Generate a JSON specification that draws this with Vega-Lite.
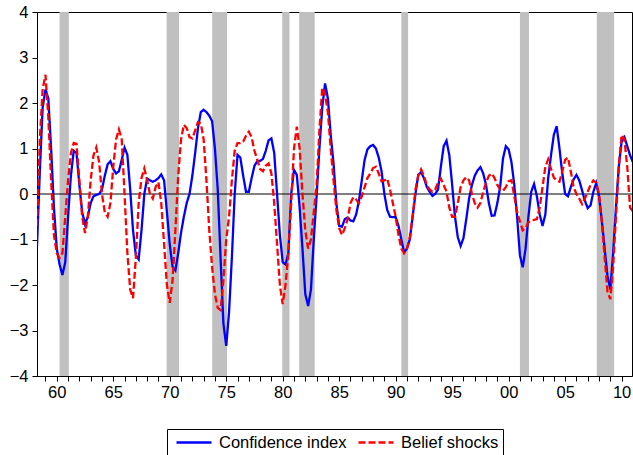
{
  "$schema": "https://vega.github.io/schema/vega-lite/v6.json",
  "autosize": {"type": "none"},
  "padding": {"left": 37, "top": 12, "right": 1, "bottom": 79},
  "width": 595,
  "height": 364,
  "background": "white",
  "config": {
    "font": "Liberation Sans",
    "view": {"stroke": "black", "strokeWidth": 1},
    "axis": {"domainColor": "black", "tickColor": "black", "labelColor": "black", "grid": false, "labelFontSize": 16.5, "labelFont": "Liberation Sans", "tickSize": 5, "domainWidth": 1, "tickWidth": 1}
  },
  "datasets": {
    "rec": [
      {"s": 1960.25, "e": 1961.07},
      {"s": 1969.72, "e": 1970.83},
      {"s": 1973.76, "e": 1975.08},
      {"s": 1979.96, "e": 1980.6},
      {"s": 1981.46, "e": 1982.83},
      {"s": 1990.5, "e": 1991.1},
      {"s": 2001.0, "e": 2001.8},
      {"s": 2007.8, "e": 2009.34}
    ],
    "main": [
      {"t":1958.25,"Confidence index":-1.15,"Belief shocks":-0.7},
      {"t":1958.5,"Confidence index":0.5,"Belief shocks":1.2},
      {"t":1958.75,"Confidence index":1.9,"Belief shocks":2.3},
      {"t":1959.0,"Confidence index":2.3,"Belief shocks":2.62},
      {"t":1959.25,"Confidence index":2.1,"Belief shocks":1.7},
      {"t":1959.5,"Confidence index":1.0,"Belief shocks":0.3},
      {"t":1959.75,"Confidence index":-0.3,"Belief shocks":-0.9},
      {"t":1960.0,"Confidence index":-1.2,"Belief shocks":-1.3},
      {"t":1960.25,"Confidence index":-1.55,"Belief shocks":-1.41},
      {"t":1960.5,"Confidence index":-1.78,"Belief shocks":-1.3},
      {"t":1960.75,"Confidence index":-1.5,"Belief shocks":-0.5},
      {"t":1961.0,"Confidence index":-0.5,"Belief shocks":0.3},
      {"t":1961.25,"Confidence index":0.4,"Belief shocks":0.9},
      {"t":1961.5,"Confidence index":0.95,"Belief shocks":1.12},
      {"t":1961.75,"Confidence index":0.9,"Belief shocks":1.1},
      {"t":1962.0,"Confidence index":0.2,"Belief shocks":0.3},
      {"t":1962.25,"Confidence index":-0.4,"Belief shocks":-0.5},
      {"t":1962.5,"Confidence index":-0.66,"Belief shocks":-0.86},
      {"t":1962.75,"Confidence index":-0.5,"Belief shocks":-0.5},
      {"t":1963.0,"Confidence index":-0.2,"Belief shocks":0.3},
      {"t":1963.25,"Confidence index":-0.05,"Belief shocks":0.85},
      {"t":1963.5,"Confidence index":-0.02,"Belief shocks":1.02},
      {"t":1963.75,"Confidence index":0.0,"Belief shocks":0.7},
      {"t":1964.0,"Confidence index":0.1,"Belief shocks":0.0},
      {"t":1964.25,"Confidence index":0.4,"Belief shocks":-0.4},
      {"t":1964.5,"Confidence index":0.65,"Belief shocks":-0.5},
      {"t":1964.75,"Confidence index":0.72,"Belief shocks":-0.2},
      {"t":1965.0,"Confidence index":0.55,"Belief shocks":0.6},
      {"t":1965.25,"Confidence index":0.45,"Belief shocks":1.2},
      {"t":1965.5,"Confidence index":0.5,"Belief shocks":1.42},
      {"t":1965.75,"Confidence index":0.75,"Belief shocks":1.2},
      {"t":1966.0,"Confidence index":1.02,"Belief shocks":0.0},
      {"t":1966.25,"Confidence index":0.86,"Belief shocks":-1.3},
      {"t":1966.5,"Confidence index":0.1,"Belief shocks":-2.1},
      {"t":1966.75,"Confidence index":-0.8,"Belief shocks":-2.29},
      {"t":1967.0,"Confidence index":-1.35,"Belief shocks":-1.4},
      {"t":1967.25,"Confidence index":-1.44,"Belief shocks":-0.2},
      {"t":1967.5,"Confidence index":-0.8,"Belief shocks":0.35},
      {"t":1967.75,"Confidence index":0.0,"Belief shocks":0.56},
      {"t":1968.0,"Confidence index":0.34,"Belief shocks":0.3},
      {"t":1968.25,"Confidence index":0.3,"Belief shocks":0.0},
      {"t":1968.5,"Confidence index":0.27,"Belief shocks":-0.1},
      {"t":1968.75,"Confidence index":0.3,"Belief shocks":0.15},
      {"t":1969.0,"Confidence index":0.35,"Belief shocks":0.26},
      {"t":1969.25,"Confidence index":0.43,"Belief shocks":-0.2},
      {"t":1969.5,"Confidence index":0.3,"Belief shocks":-1.1},
      {"t":1969.75,"Confidence index":-0.4,"Belief shocks":-2.0},
      {"t":1970.0,"Confidence index":-1.1,"Belief shocks":-2.39},
      {"t":1970.25,"Confidence index":-1.6,"Belief shocks":-1.9},
      {"t":1970.5,"Confidence index":-1.68,"Belief shocks":-0.8},
      {"t":1970.75,"Confidence index":-1.3,"Belief shocks":0.4},
      {"t":1971.0,"Confidence index":-0.85,"Belief shocks":1.2},
      {"t":1971.25,"Confidence index":-0.5,"Belief shocks":1.52},
      {"t":1971.5,"Confidence index":-0.2,"Belief shocks":1.45},
      {"t":1971.75,"Confidence index":0.0,"Belief shocks":1.25},
      {"t":1972.0,"Confidence index":0.4,"Belief shocks":1.22},
      {"t":1972.25,"Confidence index":0.9,"Belief shocks":1.4},
      {"t":1972.5,"Confidence index":1.45,"Belief shocks":1.58},
      {"t":1972.75,"Confidence index":1.8,"Belief shocks":1.55},
      {"t":1973.0,"Confidence index":1.85,"Belief shocks":1.2},
      {"t":1973.25,"Confidence index":1.8,"Belief shocks":0.3},
      {"t":1973.5,"Confidence index":1.72,"Belief shocks":-0.8},
      {"t":1973.75,"Confidence index":1.6,"Belief shocks":-1.6},
      {"t":1974.0,"Confidence index":1.0,"Belief shocks":-2.2},
      {"t":1974.25,"Confidence index":0.1,"Belief shocks":-2.5},
      {"t":1974.5,"Confidence index":-1.4,"Belief shocks":-2.55},
      {"t":1974.75,"Confidence index":-2.84,"Belief shocks":-1.9},
      {"t":1975.0,"Confidence index":-3.34,"Belief shocks":-1.0},
      {"t":1975.25,"Confidence index":-2.6,"Belief shocks":-0.5},
      {"t":1975.5,"Confidence index":-1.4,"Belief shocks":0.3},
      {"t":1975.75,"Confidence index":0.0,"Belief shocks":0.95},
      {"t":1976.0,"Confidence index":0.86,"Belief shocks":1.12},
      {"t":1976.25,"Confidence index":0.8,"Belief shocks":1.12},
      {"t":1976.5,"Confidence index":0.4,"Belief shocks":1.15},
      {"t":1976.75,"Confidence index":0.05,"Belief shocks":1.28},
      {"t":1977.0,"Confidence index":0.05,"Belief shocks":1.37},
      {"t":1977.25,"Confidence index":0.35,"Belief shocks":1.25},
      {"t":1977.5,"Confidence index":0.62,"Belief shocks":0.95},
      {"t":1977.75,"Confidence index":0.72,"Belief shocks":0.75},
      {"t":1978.0,"Confidence index":0.73,"Belief shocks":0.55},
      {"t":1978.25,"Confidence index":0.77,"Belief shocks":0.5},
      {"t":1978.5,"Confidence index":0.95,"Belief shocks":0.62},
      {"t":1978.75,"Confidence index":1.18,"Belief shocks":0.67},
      {"t":1979.0,"Confidence index":1.22,"Belief shocks":0.45},
      {"t":1979.25,"Confidence index":0.9,"Belief shocks":-0.2},
      {"t":1979.5,"Confidence index":0.0,"Belief shocks":-1.1},
      {"t":1979.75,"Confidence index":-0.9,"Belief shocks":-2.0},
      {"t":1980.0,"Confidence index":-1.5,"Belief shocks":-2.42},
      {"t":1980.25,"Confidence index":-1.55,"Belief shocks":-2.0},
      {"t":1980.5,"Confidence index":-1.3,"Belief shocks":-1.3},
      {"t":1980.75,"Confidence index":0.0,"Belief shocks":-0.2},
      {"t":1981.0,"Confidence index":0.53,"Belief shocks":1.0},
      {"t":1981.25,"Confidence index":0.42,"Belief shocks":1.48},
      {"t":1981.5,"Confidence index":-0.3,"Belief shocks":1.0},
      {"t":1981.75,"Confidence index":-1.2,"Belief shocks":0.0},
      {"t":1982.0,"Confidence index":-2.2,"Belief shocks":-0.8},
      {"t":1982.25,"Confidence index":-2.46,"Belief shocks":-1.2},
      {"t":1982.5,"Confidence index":-2.1,"Belief shocks":-1.0},
      {"t":1982.75,"Confidence index":-1.0,"Belief shocks":-0.4},
      {"t":1983.0,"Confidence index":-0.05,"Belief shocks":0.2},
      {"t":1983.25,"Confidence index":1.0,"Belief shocks":1.4},
      {"t":1983.5,"Confidence index":1.9,"Belief shocks":2.34},
      {"t":1983.75,"Confidence index":2.43,"Belief shocks":2.2},
      {"t":1984.0,"Confidence index":2.1,"Belief shocks":1.8},
      {"t":1984.25,"Confidence index":1.3,"Belief shocks":1.0},
      {"t":1984.5,"Confidence index":0.67,"Belief shocks":0.3},
      {"t":1984.75,"Confidence index":-0.2,"Belief shocks":-0.35},
      {"t":1985.0,"Confidence index":-0.7,"Belief shocks":-0.75},
      {"t":1985.25,"Confidence index":-0.72,"Belief shocks":-0.9},
      {"t":1985.5,"Confidence index":-0.55,"Belief shocks":-0.75},
      {"t":1985.75,"Confidence index":-0.52,"Belief shocks":-0.55},
      {"t":1986.0,"Confidence index":-0.58,"Belief shocks":-0.2},
      {"t":1986.25,"Confidence index":-0.6,"Belief shocks":-0.07},
      {"t":1986.5,"Confidence index":-0.45,"Belief shocks":-0.12},
      {"t":1986.75,"Confidence index":-0.15,"Belief shocks":-0.2},
      {"t":1987.0,"Confidence index":0.3,"Belief shocks":-0.05},
      {"t":1987.25,"Confidence index":0.75,"Belief shocks":0.15},
      {"t":1987.5,"Confidence index":0.98,"Belief shocks":0.35},
      {"t":1987.75,"Confidence index":1.05,"Belief shocks":0.45},
      {"t":1988.0,"Confidence index":1.08,"Belief shocks":0.57},
      {"t":1988.25,"Confidence index":1.0,"Belief shocks":0.6},
      {"t":1988.5,"Confidence index":0.8,"Belief shocks":0.45},
      {"t":1988.75,"Confidence index":0.5,"Belief shocks":0.28},
      {"t":1989.0,"Confidence index":0.0,"Belief shocks":0.3},
      {"t":1989.25,"Confidence index":-0.35,"Belief shocks":0.34},
      {"t":1989.5,"Confidence index":-0.5,"Belief shocks":0.1},
      {"t":1989.75,"Confidence index":-0.51,"Belief shocks":-0.2},
      {"t":1990.0,"Confidence index":-0.51,"Belief shocks":-0.5},
      {"t":1990.25,"Confidence index":-0.7,"Belief shocks":-0.9},
      {"t":1990.5,"Confidence index":-1.0,"Belief shocks":-1.2},
      {"t":1990.75,"Confidence index":-1.28,"Belief shocks":-1.3},
      {"t":1991.0,"Confidence index":-1.2,"Belief shocks":-1.2},
      {"t":1991.25,"Confidence index":-1.0,"Belief shocks":-0.95},
      {"t":1991.5,"Confidence index":-0.5,"Belief shocks":-0.5},
      {"t":1991.75,"Confidence index":0.0,"Belief shocks":0.1},
      {"t":1992.0,"Confidence index":0.42,"Belief shocks":0.4},
      {"t":1992.25,"Confidence index":0.48,"Belief shocks":0.54},
      {"t":1992.5,"Confidence index":0.35,"Belief shocks":0.4},
      {"t":1992.75,"Confidence index":0.16,"Belief shocks":0.2},
      {"t":1993.0,"Confidence index":0.05,"Belief shocks":0.1},
      {"t":1993.25,"Confidence index":-0.04,"Belief shocks":0.05},
      {"t":1993.5,"Confidence index":0.0,"Belief shocks":0.1},
      {"t":1993.75,"Confidence index":0.1,"Belief shocks":0.25},
      {"t":1994.0,"Confidence index":0.6,"Belief shocks":0.34},
      {"t":1994.25,"Confidence index":1.05,"Belief shocks":0.2},
      {"t":1994.5,"Confidence index":1.17,"Belief shocks":0.05},
      {"t":1994.75,"Confidence index":0.85,"Belief shocks":-0.3},
      {"t":1995.0,"Confidence index":0.2,"Belief shocks":-0.5},
      {"t":1995.25,"Confidence index":-0.5,"Belief shocks":-0.5},
      {"t":1995.5,"Confidence index":-0.95,"Belief shocks":-0.2},
      {"t":1995.75,"Confidence index":-1.14,"Belief shocks":0.15},
      {"t":1996.0,"Confidence index":-0.97,"Belief shocks":0.3},
      {"t":1996.25,"Confidence index":-0.55,"Belief shocks":0.37},
      {"t":1996.5,"Confidence index":-0.1,"Belief shocks":0.3},
      {"t":1996.75,"Confidence index":0.2,"Belief shocks":0.0},
      {"t":1997.0,"Confidence index":0.4,"Belief shocks":-0.2},
      {"t":1997.25,"Confidence index":0.52,"Belief shocks":-0.3},
      {"t":1997.5,"Confidence index":0.59,"Belief shocks":-0.2},
      {"t":1997.75,"Confidence index":0.45,"Belief shocks":0.05},
      {"t":1998.0,"Confidence index":0.2,"Belief shocks":0.25},
      {"t":1998.25,"Confidence index":-0.2,"Belief shocks":0.4},
      {"t":1998.5,"Confidence index":-0.48,"Belief shocks":0.45},
      {"t":1998.75,"Confidence index":-0.47,"Belief shocks":0.35},
      {"t":1999.0,"Confidence index":-0.2,"Belief shocks":0.2},
      {"t":1999.25,"Confidence index":0.16,"Belief shocks":0.1},
      {"t":1999.5,"Confidence index":0.78,"Belief shocks":0.07},
      {"t":1999.75,"Confidence index":1.05,"Belief shocks":0.15},
      {"t":2000.0,"Confidence index":0.98,"Belief shocks":0.28},
      {"t":2000.25,"Confidence index":0.7,"Belief shocks":0.3},
      {"t":2000.5,"Confidence index":0.2,"Belief shocks":-0.05},
      {"t":2000.75,"Confidence index":-0.5,"Belief shocks":-0.4},
      {"t":2001.0,"Confidence index":-1.35,"Belief shocks":-0.6},
      {"t":2001.25,"Confidence index":-1.61,"Belief shocks":-0.8},
      {"t":2001.5,"Confidence index":-1.2,"Belief shocks":-0.75},
      {"t":2001.75,"Confidence index":-0.5,"Belief shocks":-0.62},
      {"t":2002.0,"Confidence index":0.05,"Belief shocks":-0.58},
      {"t":2002.25,"Confidence index":0.22,"Belief shocks":-0.57},
      {"t":2002.5,"Confidence index":-0.05,"Belief shocks":-0.55},
      {"t":2002.75,"Confidence index":-0.45,"Belief shocks":-0.3},
      {"t":2003.0,"Confidence index":-0.7,"Belief shocks":0.15},
      {"t":2003.25,"Confidence index":-0.45,"Belief shocks":0.6},
      {"t":2003.5,"Confidence index":0.35,"Belief shocks":0.76},
      {"t":2003.75,"Confidence index":0.85,"Belief shocks":0.55},
      {"t":2004.0,"Confidence index":1.3,"Belief shocks":0.36},
      {"t":2004.25,"Confidence index":1.49,"Belief shocks":0.3},
      {"t":2004.5,"Confidence index":1.0,"Belief shocks":0.27},
      {"t":2004.75,"Confidence index":0.45,"Belief shocks":0.5},
      {"t":2005.0,"Confidence index":0.0,"Belief shocks":0.75},
      {"t":2005.25,"Confidence index":-0.05,"Belief shocks":0.8},
      {"t":2005.5,"Confidence index":0.15,"Belief shocks":0.5},
      {"t":2005.75,"Confidence index":0.32,"Belief shocks":0.15},
      {"t":2006.0,"Confidence index":0.42,"Belief shocks":0.0},
      {"t":2006.25,"Confidence index":0.3,"Belief shocks":-0.1},
      {"t":2006.5,"Confidence index":0.08,"Belief shocks":-0.22},
      {"t":2006.75,"Confidence index":-0.15,"Belief shocks":-0.1},
      {"t":2007.0,"Confidence index":-0.31,"Belief shocks":0.05},
      {"t":2007.25,"Confidence index":-0.25,"Belief shocks":0.2},
      {"t":2007.5,"Confidence index":0.05,"Belief shocks":0.3},
      {"t":2007.75,"Confidence index":0.24,"Belief shocks":0.25},
      {"t":2008.0,"Confidence index":-0.05,"Belief shocks":0.0},
      {"t":2008.25,"Confidence index":-0.59,"Belief shocks":-0.6},
      {"t":2008.5,"Confidence index":-1.2,"Belief shocks":-1.4},
      {"t":2008.75,"Confidence index":-1.8,"Belief shocks":-2.15},
      {"t":2009.0,"Confidence index":-2.1,"Belief shocks":-2.31},
      {"t":2009.25,"Confidence index":-1.3,"Belief shocks":-1.6},
      {"t":2009.5,"Confidence index":-0.3,"Belief shocks":-0.5},
      {"t":2009.75,"Confidence index":0.6,"Belief shocks":0.6},
      {"t":2010.0,"Confidence index":1.15,"Belief shocks":1.3},
      {"t":2010.25,"Confidence index":1.25,"Belief shocks":1.2},
      {"t":2010.5,"Confidence index":1.05,"Belief shocks":0.6},
      {"t":2010.75,"Confidence index":0.85,"Belief shocks":-0.3},
      {"t":2011.0,"Confidence index":0.7,"Belief shocks":-0.38}
    ]
  },
  "layer": [
    {
      "data": {"name": "rec"},
      "mark": {"type": "rect", "color": "#c0c0c0"},
      "encoding": {
        "x": {
          "field": "s", "type": "quantitative", "title": null,
          "scale": {"domain": [1958.25, 2010.92], "nice": false, "zero": false},
          "axis": {
            "values": [1959,1960,1961,1962,1963,1964,1965,1966,1967,1968,1969,1970,1971,1972,1973,1974,1975,1976,1977,1978,1979,1980,1981,1982,1983,1984,1985,1986,1987,1988,1989,1990,1991,1992,1993,1994,1995,1996,1997,1998,1999,2000,2001,2002,2003,2004,2005,2006,2007,2008,2009,2010],
            "labelExpr": "datum.value % 5 === 0 ? format(datum.value % 100, '02d') : ''",
            "labelOverlap": false,
            "labelFlush": false,
            "labelPadding": 3
          }
        },
        "x2": {"field": "e"}
      }
    },
    {
      "data": {"values": [{"z": 0}]},
      "mark": {"type": "rule", "color": "black", "strokeWidth": 1},
      "encoding": {
        "y": {
          "field": "z", "type": "quantitative", "title": null,
          "scale": {"domain": [-4, 4], "nice": false},
          "axis": {"values": [-4,-3,-2,-1,0,1,2,3,4], "labelOverlap": false, "labelFlush": false, "labelPadding": 4}
        }
      }
    },
    {
      "data": {"name": "main"},
      "transform": [{"fold": ["Confidence index", "Belief shocks"], "as": ["series", "value"]}],
      "mark": {"type": "line", "clip": true, "strokeWidth": 2.3},
      "encoding": {
        "x": {
          "field": "t", "type": "quantitative", "title": null,
          "scale": {"domain": [1958.25, 2010.92], "nice": false, "zero": false},
          "axis": {
            "values": [1959,1960,1961,1962,1963,1964,1965,1966,1967,1968,1969,1970,1971,1972,1973,1974,1975,1976,1977,1978,1979,1980,1981,1982,1983,1984,1985,1986,1987,1988,1989,1990,1991,1992,1993,1994,1995,1996,1997,1998,1999,2000,2001,2002,2003,2004,2005,2006,2007,2008,2009,2010],
            "labelExpr": "datum.value % 5 === 0 ? format(datum.value % 100, '02d') : ''",
            "labelOverlap": false,
            "labelFlush": false,
            "labelPadding": 3
          }
        },
        "y": {
          "field": "value", "type": "quantitative", "title": null,
          "scale": {"domain": [-4, 4], "nice": false},
          "axis": {"values": [-4,-3,-2,-1,0,1,2,3,4], "labelOverlap": false, "labelFlush": false, "labelPadding": 4}
        },
        "color": {
          "field": "series", "type": "nominal",
          "scale": {"domain": ["Confidence index", "Belief shocks"], "range": ["#0000ff", "#ff0000"]},
          "legend": {
            "title": null,
            "orient": "none",
            "legendX": 130,
            "legendY": 417,
            "direction": "horizontal",
            "strokeColor": "black",
            "fillColor": "white",
            "padding": 4,
            "symbolType": "M-0.5,0H3.875",
            "symbolSize": 256,
            "symbolStrokeWidth": 2.4,
            "labelFontSize": 16.5,
            "labelColor": "black",
            "labelOffset": 29,
            "columnPadding": 6
          }
        },
        "strokeDash": {
          "field": "series", "type": "nominal",
          "scale": {"domain": ["Confidence index", "Belief shocks"], "range": [[1, 0], [7, 3]]},
          "legend": {
            "title": null,
            "orient": "none",
            "legendX": 130,
            "legendY": 417,
            "direction": "horizontal",
            "strokeColor": "black",
            "fillColor": "white",
            "padding": 4,
            "symbolType": "M-0.5,0H3.875",
            "symbolSize": 256,
            "symbolStrokeWidth": 2.4,
            "labelFontSize": 16.5,
            "labelColor": "black",
            "labelOffset": 29,
            "columnPadding": 6
          }
        }
      }
    }
  ]
}
